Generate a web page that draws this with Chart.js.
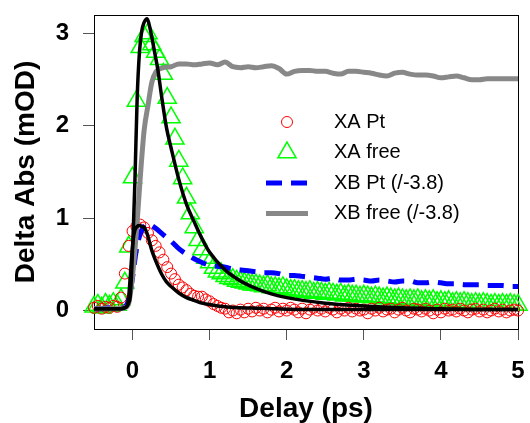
<!DOCTYPE html>
<html>
<head>
<meta charset="utf-8">
<script src="https://cdn.jsdelivr.net/npm/chart.js@4.4.1/dist/chart.umd.min.js"></script>
<style>
  body { margin: 0; background: #fff; }
  canvas { display: block; }
</style>
</head>
<body>
<canvas id="myChart" width="530" height="423"></canvas>
<script>
"use strict";

// delay grid for the measured XA points (ps)
var delay = [
  -0.50, -0.45, -0.40, -0.35, -0.30, -0.25, -0.20, -0.15, -0.10, -0.05,
   0.00,  0.05,  0.10,  0.15,  0.20,  0.25,  0.30,  0.35,  0.40,  0.45,
   0.50,  0.55,  0.60,  0.65,  0.70,  0.75,  0.80,  0.85,  0.90,  0.95,
   1.00,  1.05,  1.10,  1.15,  1.20,  1.25,  1.30,  1.35,  1.40,  1.45,
   1.50,  1.55,  1.60,  1.65,  1.70,  1.75,  1.80,  1.85,  1.90,  1.95,
   2.00,  2.05,  2.10,  2.15,  2.20,  2.25,  2.30,  2.35,  2.40,  2.45,
   2.50,  2.55,  2.60,  2.65,  2.70,  2.75,  2.80,  2.85,  2.90,  2.95,
   3.00,  3.05,  3.10,  3.15,  3.20,  3.25,  3.30,  3.35,  3.40,  3.45,
   3.50,  3.55,  3.60,  3.65,  3.70,  3.75,  3.80,  3.85,  3.90,  3.95,
   4.00,  4.05,  4.10,  4.15,  4.20,  4.25,  4.30,  4.35,  4.40,  4.45,
   4.50,  4.55,  4.60,  4.65,  4.70,  4.75,  4.80,  4.85,  4.90,  4.95,
   5.00
];

var xaPt = [
  0.03, 0.05, 0.02, 0.04, 0.03, 0.05, 0.04, 0.14, 0.40, 0.70,
  0.86, 0.91, 0.93, 0.90, 0.84, 0.76, 0.70, 0.63, 0.55, 0.47,
  0.40, 0.34, 0.28, 0.25, 0.22, 0.18, 0.16, 0.15, 0.15, 0.12,
  0.10, 0.07, 0.05, 0.03, 0.02, -0.02, 0.00, -0.03, 0.01, -0.02,
  0.02, -0.01, 0.03, 0.00, 0.02, -0.02, 0.01, 0.03, -0.01, 0.02,
  0.00, 0.03, 0.01, -0.02, 0.02, -0.03, 0.01, 0.03, 0.00, 0.02,
  -0.01, 0.03, 0.01, -0.02, 0.02, 0.00, 0.03, -0.01, 0.02, 0.00,
  0.01, -0.03, 0.02, 0.00, 0.03, -0.01, 0.01, 0.02, -0.02, 0.01,
  0.03, 0.00, -0.02, 0.02, 0.01, -0.01, 0.02, 0.00, -0.03, 0.01,
  -0.02, 0.02, 0.00, 0.01, -0.01, 0.02, 0.00, -0.02, 0.01, 0.02,
  -0.01, 0.01, -0.02, 0.00, 0.02, -0.01, 0.01, -0.02, 0.00, 0.01,
  0.00
];

var xaFree = [
  0.04, 0.06, 0.03, 0.07, 0.05, 0.08, 0.06, 0.12, 0.30, 0.69,
  1.44, 2.27, 2.85, 2.97, 3.00, 2.88, 2.80, 2.72, 2.56, 2.30,
  2.09, 1.86, 1.62, 1.43, 1.22, 1.05, 0.90, 0.76, 0.66, 0.57,
  0.52, 0.46, 0.42, 0.40, 0.37, 0.35, 0.34, 0.32, 0.31, 0.30,
  0.29, 0.28, 0.28, 0.27, 0.26, 0.27, 0.25, 0.25, 0.24, 0.25,
  0.23, 0.22, 0.22, 0.21, 0.21, 0.20, 0.21, 0.19, 0.20, 0.19,
  0.18, 0.19, 0.18, 0.17, 0.18, 0.16, 0.17, 0.16, 0.16, 0.15,
  0.16, 0.15, 0.14, 0.15, 0.14, 0.13, 0.14, 0.13, 0.12, 0.13,
  0.12, 0.11, 0.12, 0.11, 0.12, 0.10, 0.11, 0.10, 0.11, 0.09,
  0.10, 0.09, 0.10, 0.08, 0.09, 0.08, 0.09, 0.08, 0.07, 0.08,
  0.07, 0.08, 0.07, 0.06, 0.07, 0.06, 0.07, 0.06, 0.07, 0.06,
  0.06
];

// delay grid for the scaled XB traces (ps)
var delayB = [
  -0.5, -0.4, -0.3, -0.2, -0.1, -0.05, 0.0, 0.05, 0.1, 0.15, 0.2, 0.25, 0.3,
  0.4, 0.5, 0.6, 0.7, 0.8, 0.9, 1.0, 1.1, 1.2, 1.3,
  1.4, 1.5, 1.6, 1.7, 1.8, 1.9, 2.0, 2.1, 2.2, 2.3,
  2.4, 2.5, 2.6, 2.7, 2.8, 2.9, 3.0, 3.1, 3.2, 3.3,
  3.4, 3.5, 3.6, 3.7, 3.8, 3.9, 4.0, 4.1, 4.2, 4.3,
  4.4, 4.5, 4.6, 4.7, 4.8, 4.9, 5.0
];

var xbPt = [
  0.02, 0.02, 0.03, 0.02, 0.04, 0.12, 0.36, 0.66, 0.83, 0.91, 0.94, 0.92, 0.89,
  0.82, 0.75, 0.67, 0.61, 0.56, 0.52, 0.49, 0.48, 0.47, 0.45,
  0.44, 0.43, 0.42, 0.41, 0.41, 0.40, 0.38, 0.38, 0.37, 0.36,
  0.35, 0.34, 0.35, 0.33, 0.33, 0.34, 0.33, 0.32, 0.33, 0.32,
  0.31, 0.32, 0.32, 0.30, 0.30, 0.31, 0.30, 0.29, 0.29, 0.28,
  0.28, 0.28, 0.27, 0.27, 0.27, 0.26, 0.26
];

var xbFree = [
  0.02, 0.02, 0.02, 0.02, 0.03, 0.08, 0.38, 0.85, 1.44, 1.95, 2.22, 2.47, 2.58,
  2.63, 2.64, 2.67, 2.67, 2.66, 2.67, 2.68, 2.66, 2.69, 2.64,
  2.63, 2.64, 2.63, 2.64, 2.65, 2.62, 2.56, 2.59, 2.60, 2.60,
  2.59, 2.59, 2.57, 2.56, 2.59, 2.59, 2.58, 2.57, 2.55, 2.54,
  2.57, 2.58, 2.56, 2.55, 2.55, 2.54, 2.52, 2.53, 2.54, 2.52,
  2.50, 2.50, 2.51, 2.51, 2.51, 2.51, 2.51
];

// fitted kinetics (ps)
var fitTime = [
  -0.5, -0.3, -0.15, -0.1, -0.07, -0.05, -0.03, -0.01, 0.01, 0.03,
  0.06, 0.09, 0.12, 0.15, 0.19, 0.22, 0.25, 0.29, 0.33, 0.38,
  0.44, 0.5, 0.6, 0.7, 0.8, 0.9, 1.0, 1.2, 1.4, 1.6,
  1.8, 2.0, 2.5, 3.0, 3.5, 4.0, 4.5, 5.0
];

var fitFree = [
  0.02, 0.02, 0.02, 0.03, 0.05, 0.08, 0.15, 0.45, 0.88, 1.38,
  2.30, 2.80, 3.03, 3.12, 3.16, 3.08, 2.96, 2.78, 2.60, 2.30,
  1.98, 1.76, 1.42, 1.15, 0.96, 0.78, 0.63, 0.44, 0.32, 0.24,
  0.18, 0.14, 0.08, 0.05, 0.03, 0.02, 0.01, 0.01
];

var fitPt = [
  0.02, 0.02, 0.02, 0.03, 0.05, 0.15, 0.36, 0.60, 0.78, 0.87,
  0.91, 0.92, 0.91, 0.90, 0.83, 0.74, 0.65, 0.56, 0.48, 0.39,
  0.31, 0.26, 0.19, 0.14, 0.11, 0.08, 0.065, 0.04, 0.03, 0.025,
  0.02, 0.015, 0.01, 0.01, 0.01, 0.01, 0.01, 0.01
];

var seriesNames = ["XA Pt", "XA free", "XB Pt (/-3.8)", "XB free (/-3.8)"];
var xTicks = [0, 1, 2, 3, 4, 5];
var yTicks = [0, 1, 2, 3];

function toPoints(xs, ys) {
  return xs.map(function (x, i) { return { x: x, y: ys[i] }; });
}

var fontFamily = "'Liberation Sans', Arial, sans-serif";

// frame around the plot region plus the in-plot legend
var framePlugin = {
  id: 'frameAndLegend',
  beforeDatasetsDraw: function (chart) {
    var a = chart.chartArea, ctx = chart.ctx;
    ctx.save();
    ctx.strokeStyle = '#000';
    ctx.lineWidth = 1;
    ctx.strokeRect(Math.round(a.left) + 0.5, Math.round(a.top) + 0.5,
      Math.round(a.right - a.left), Math.round(a.bottom - a.top));
    ctx.restore();
  },
  afterDraw: function (chart) {
    var ctx = chart.ctx;
    var rows = [122, 152.5, 183, 213.5];
    ctx.save();
    seriesNames.forEach(function (name, i) {
      var ds = chart.data.datasets.find(function (d) { return d.label === name; });
      var y = rows[i];
      ctx.strokeStyle = ds.borderColor;
      ctx.lineWidth = ds.borderWidth;
      if (ds.showLine === false) {
        ctx.fillStyle = 'rgba(0,0,0,0)';
        Chart.helpers.drawPoint(ctx, {
          pointStyle: ds.pointStyle,
          radius: ds.legendRadius,
          rotation: 0,
          borderWidth: ds.borderWidth
        }, 287, y);
      } else {
        ctx.setLineDash(ds.borderDash || []);
        ctx.lineCap = 'butt';
        ctx.beginPath();
        ctx.moveTo(266, y);
        ctx.lineTo(308, y);
        ctx.stroke();
        ctx.setLineDash([]);
      }
      ctx.fillStyle = '#000';
      ctx.font = "20px " + fontFamily;
      ctx.textBaseline = 'middle';
      ctx.textAlign = 'left';
      ctx.fillText(name, 334, y);
    });
    ctx.restore();
  }
};

function buildChart() {
  var ctx = document.getElementById("myChart");
  new Chart(ctx, {
    type: 'line',
    data: {
      datasets: [
        // drawn last-to-first, so the fits come out on top
        {
          label: 'fit free', data: toPoints(fitTime, fitFree),
          borderColor: '#000000', borderWidth: 3.5, pointRadius: 0,
          cubicInterpolationMode: 'monotone', fill: false
        },
        {
          label: 'fit Pt', data: toPoints(fitTime, fitPt),
          borderColor: '#000000', borderWidth: 3.5, pointRadius: 0,
          cubicInterpolationMode: 'monotone', fill: false
        },
        {
          label: seriesNames[3], data: toPoints(delayB, xbFree),
          borderColor: '#888888', borderWidth: 5, pointRadius: 0,
          cubicInterpolationMode: 'monotone', fill: false
        },
        {
          label: seriesNames[2], data: toPoints(delayB, xbPt),
          borderColor: '#0000FF', borderWidth: 5, borderDash: [16, 9],
          pointRadius: 0, cubicInterpolationMode: 'monotone', fill: false
        },
        {
          label: seriesNames[0], data: toPoints(delay, xaPt),
          showLine: false, pointStyle: 'circle', pointRadius: 5.5, legendRadius: 5.5,
          borderColor: '#FF0000', pointBorderColor: '#FF0000', pointBackgroundColor: 'rgba(0,0,0,0)',
          borderWidth: 1, pointBorderWidth: 1, clip: false
        },
        {
          label: seriesNames[1], data: toPoints(delay, xaFree),
          showLine: false, pointStyle: 'triangle', pointRadius: 10.5, legendRadius: 10.5,
          borderColor: '#00FF00', pointBorderColor: '#00FF00', pointBackgroundColor: 'rgba(0,0,0,0)',
          borderWidth: 1.5, pointBorderWidth: 1.5, clip: false
        }
      ]
    },
    options: {
      responsive: false,
      animation: false,
      events: [],
      layout: { padding: { top: 15, right: 8, bottom: 0, left: 0 } },
      plugins: { legend: { display: false }, tooltip: { enabled: false } },
      scales: {
        x: {
          type: 'linear', min: -0.5, max: 5,
          afterBuildTicks: function (s) { s.ticks = xTicks.map(function (v) { return { value: v }; }); },
          afterFit: function (s) { s.height = 94; s.paddingLeft = 0; s.paddingRight = 0; },
          border: { display: false },
          grid: { drawOnChartArea: false, drawTicks: true, tickLength: 11, tickColor: '#555', tickWidth: 1 },
          ticks: {
            autoSkip: false, maxRotation: 0, padding: 19, color: '#000',
            font: { family: fontFamily, size: 24, weight: 'bold', lineHeight: 1 }
          },
          title: {
            display: true, text: 'Delay (ps)', color: '#000', padding: { top: 0, bottom: 0 },
            font: { family: fontFamily, size: 28, weight: 'bold', lineHeight: 1 }
          }
        },
        y: {
          type: 'linear', min: -0.2, max: 3.2,
          afterBuildTicks: function (s) { s.ticks = yTicks.map(function (v) { return { value: v }; }); },
          afterFit: function (s) { s.width = 94; s.paddingTop = 0; s.paddingBottom = 0; },
          border: { display: false },
          grid: { drawOnChartArea: false, drawTicks: true, tickLength: 11, tickColor: '#555', tickWidth: 1 },
          ticks: {
            padding: 14, color: '#000',
            font: { family: fontFamily, size: 24, weight: 'bold', lineHeight: 1 }
          },
          title: {
            display: true, text: 'Delta Abs (mOD)', color: '#000', padding: { top: 12, bottom: 0 },
            font: { family: fontFamily, size: 28, weight: 'bold', lineHeight: 1 }
          }
        }
      }
    },
    plugins: [framePlugin]
  });
}

buildChart();
</script>
</body>
</html>
